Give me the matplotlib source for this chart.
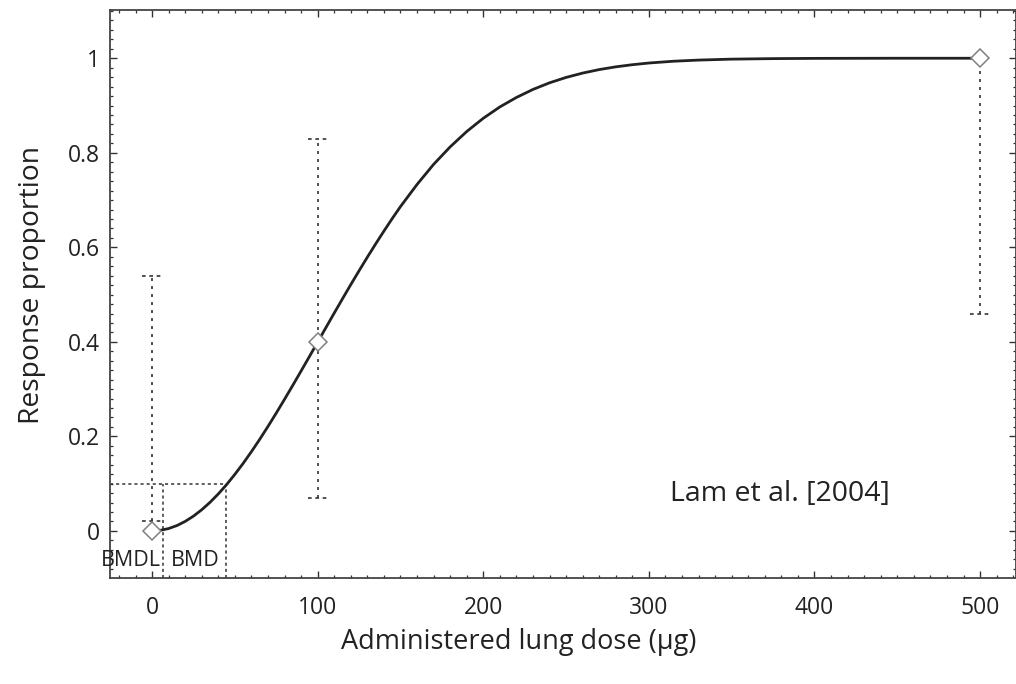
import matplotlib
matplotlib.use("Agg")
import matplotlib.pyplot as plt
from matplotlib.ticker import MultipleLocator

plt.rcParams['font.family'] = ['Open Sans', 'DejaVu Sans']

# observed data
dose = [0, 100, 500]
resp = [0.0, 0.40, 1.0]
ci_low = [0.02, 0.07, 0.46]
ci_high = [0.54, 0.83, 1.0]

# fitted curve
curve_dose = [0, 5, 10, 15, 20, 25, 30, 35, 40, 45, 50, 55, 60, 65, 70, 75, 80,
              85, 90, 95, 100, 105, 110, 115, 120, 125, 130, 135, 140, 145, 150,
              160, 170, 180, 190, 200, 210, 220, 230, 240, 250, 260, 270, 280,
              290, 300, 315, 330, 350, 375, 400, 450, 500]
curve_resp = [0.0, 0.0013, 0.0051, 0.0114, 0.0202, 0.0314, 0.0449, 0.0606,
              0.0784, 0.0981, 0.1198, 0.1430, 0.1678, 0.1939, 0.2212, 0.2495,
              0.2786, 0.3083, 0.3385, 0.3690, 0.3996, 0.4304, 0.4610, 0.4913,
              0.5212, 0.5505, 0.5792, 0.6072, 0.6344, 0.6608, 0.6862,
              0.7330, 0.7755, 0.8125, 0.8450, 0.8730, 0.8970, 0.9170, 0.9340,
              0.9480, 0.9594, 0.9686, 0.9760, 0.9818, 0.9863, 0.9899, 0.9937,
              0.9961, 0.9981, 0.9992, 0.9997, 1.0, 1.0]

bmdl = 6.6
bmd = 44.7
bmr = 0.1

fig = plt.figure(figsize=(10.16, 6.84), dpi=100)
ax = fig.add_axes([0.1083, 0.155, 0.8917, 0.830])
ax.set_xlim(-25.4, 521.7)
ax.set_ylim(-0.0995, 1.1015)

dark = '#222222'
# curve
ax.plot(curve_dose, curve_resp, color=dark, lw=2.0, zorder=3, solid_capstyle='round')

# error bars (dotted)
cap_half = 6.0
for x, lo, hi in zip(dose, ci_low, ci_high):
    ax.vlines(x, lo, hi, colors='#333333', linestyles=(0, (1.8, 3.0)), lw=1.2, zorder=2)
    ax.hlines([lo, hi], x - cap_half, x + cap_half, colors='#333333',
              linestyles=(0, (2.2, 2.2)), lw=1.2, zorder=2)

# data markers
ax.plot(dose, resp, linestyle='none', marker='D', markersize=9.5,
        markerfacecolor='white', markeredgecolor='#808080', markeredgewidth=1.1, zorder=4)

# BMD / BMDL lines
ymin = ax.get_ylim()[0]
xmin = ax.get_xlim()[0]
ax.hlines(bmr, xmin, bmd, colors='#333333', linestyles=(0, (2.0, 2.0)), lw=1.1, zorder=1)
ax.vlines([bmdl, bmd], ymin, bmr, colors='#333333', linestyles=(0, (2.0, 2.0)), lw=1.1, zorder=1)

ax.text(bmdl - 1.5, -0.062, 'BMDL', ha='right', va='center', fontsize=15.5, color='#222222')
ax.text(bmdl + 5, -0.062, 'BMD', ha='left', va='center', fontsize=15.5, color='#222222')
ax.text(0.861, 0.148, 'Lam et al. [2004]', transform=ax.transAxes, ha='right', va='center',
        fontsize=20.5, color='#222222')

ax.xaxis.set_major_locator(MultipleLocator(100))
ax.xaxis.set_minor_locator(MultipleLocator(10))
ax.yaxis.set_minor_locator(MultipleLocator(0.02))
ax.set_yticks([0, 0.2, 0.4, 0.6, 0.8, 1.0])
ax.set_yticklabels(['0', '0.2', '0.4', '0.6', '0.8', '1'])
ax.tick_params(which='both', direction='in', top=True, right=True, color='#333333')
ax.tick_params(which='major', length=5, width=1.0, labelsize=16.5, labelcolor='#222222')
ax.tick_params(axis='x', which='major', pad=13)
ax.tick_params(axis='y', which='major', pad=7)
ax.tick_params(which='minor', length=2.5, width=0.9)
for s in ax.spines.values():
    s.set_color('#444444')
    s.set_linewidth(1.3)

ax.set_xlabel('Administered lung dose (µg)', fontsize=19.5, color='#222222')
ax.set_ylabel('Response proportion', fontsize=20.3, color='#222222')
ax.xaxis.set_label_coords(0.451, -0.088)
ax.yaxis.set_label_coords(-0.0706, 0.516)

fig.savefig('out.png', dpi=100)
